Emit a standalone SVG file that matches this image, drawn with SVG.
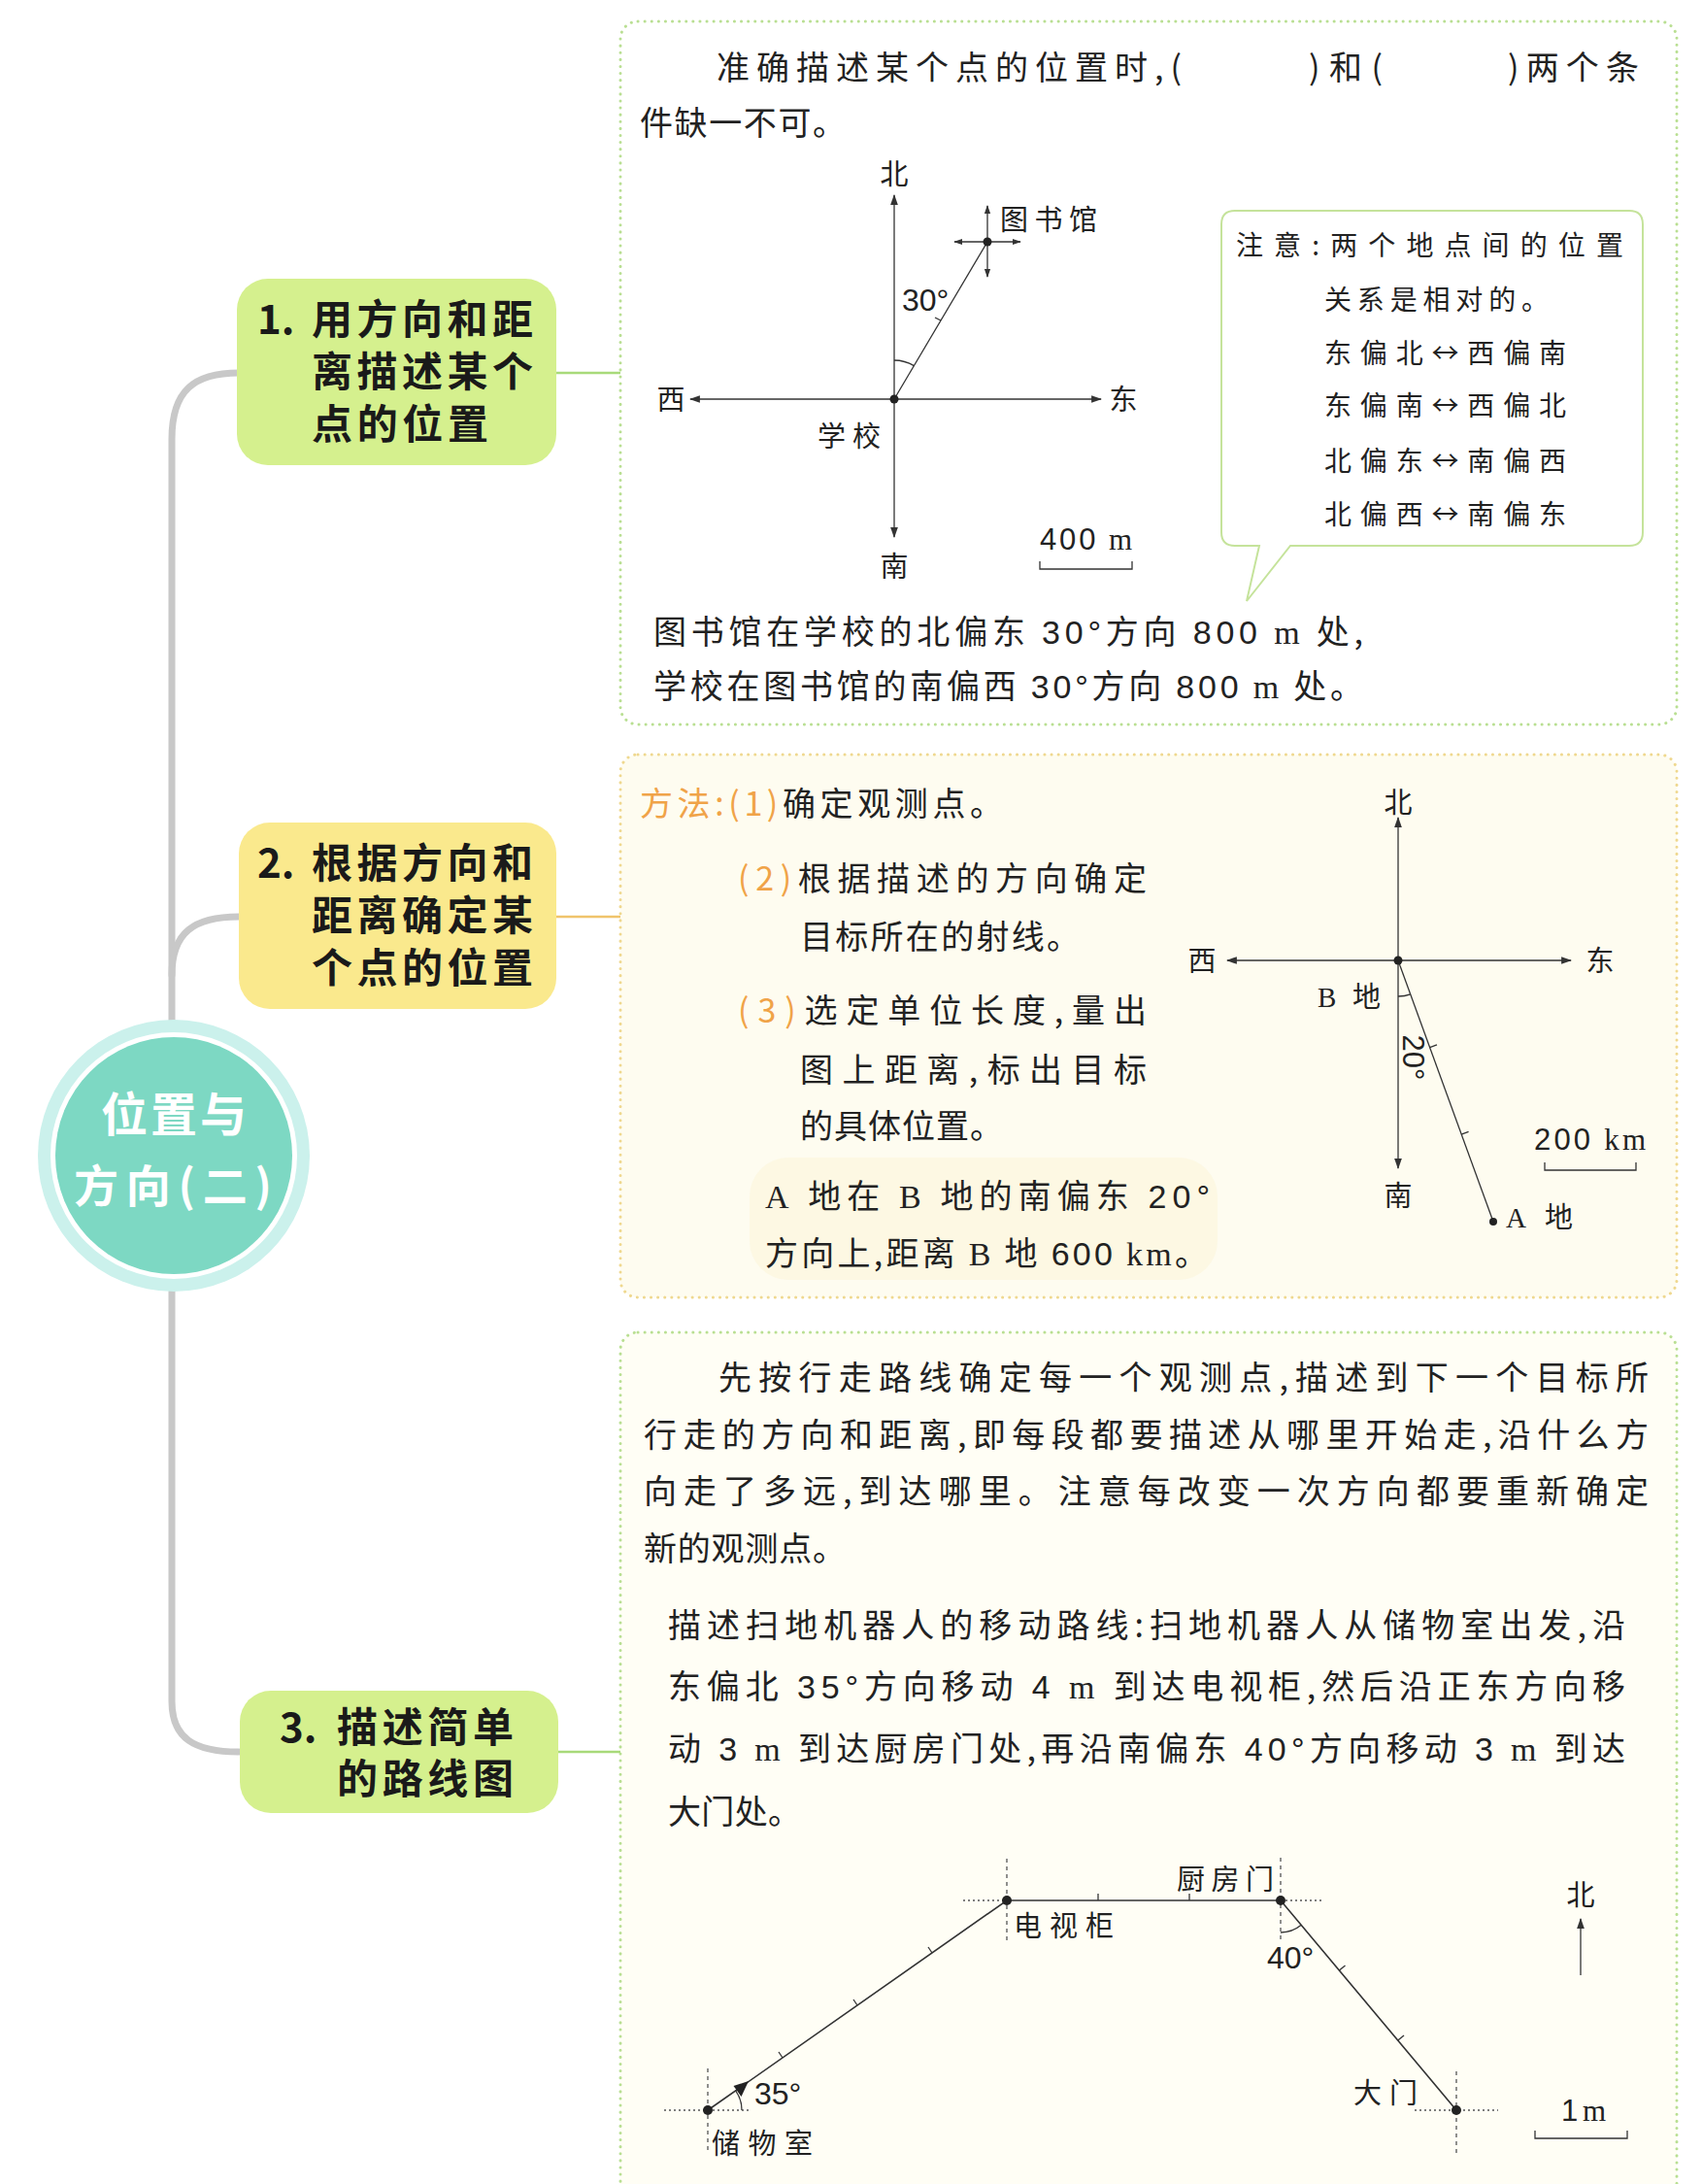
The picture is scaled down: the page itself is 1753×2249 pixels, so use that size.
<svg xmlns="http://www.w3.org/2000/svg" width="1753" height="2249" viewBox="0 0 1753 2249">
<style>
.t{font-family:"Noto Sans CJK SC","Noto Sans",sans-serif;fill:#222}
.b{font-family:"Noto Sans CJK SC","Noto Sans",sans-serif;font-weight:700;fill:#1a1a1a}
.n{font-family:"Liberation Sans","Noto Sans CJK SC",sans-serif}
.s{font-family:"Liberation Serif","Noto Sans CJK SC",serif}
.or{fill:#f0a348}
.ln{stroke:#333;stroke-width:1.6;fill:none}
.thin{stroke:#333;stroke-width:1.3;fill:none}
.dash{stroke:#555;stroke-width:1.3;stroke-dasharray:4 4;fill:none}
.dot{stroke:#555;stroke-width:1.6;stroke-dasharray:2 3;fill:none}
.pg{fill:#ffffff;stroke:#b9df92;stroke-width:3;stroke-dasharray:0.1 7;stroke-linecap:round}
.py{fill:#fefcf0;stroke:#efd88f;stroke-width:3;stroke-dasharray:0.1 7;stroke-linecap:round}
.pc{fill:#fffef5;stroke:#b9df92;stroke-width:3;stroke-dasharray:0.1 7;stroke-linecap:round}
.conn{stroke:#c8c8c8;stroke-width:7;fill:none;stroke-linecap:round}
</style>
<defs>
<marker id="ah" viewBox="0 0 10 10" refX="9" refY="5" markerWidth="11" markerHeight="11" markerUnits="userSpaceOnUse" orient="auto-start-reverse"><path d="M0,1.5 L10,5 L0,8.5 Z" fill="#333"/></marker>
<marker id="as" viewBox="0 0 10 10" refX="9" refY="5" markerWidth="9" markerHeight="9" markerUnits="userSpaceOnUse" orient="auto-start-reverse"><path d="M0,1.5 L10,5 L0,8.5 Z" fill="#333"/></marker>
</defs>
<rect width="1753" height="2249" fill="#ffffff"/>

<g id="connectors">
<path class="conn" d="M246,384 C200,384 177,402 177,452 V1052"/>
<path class="conn" d="M246,944 C200,944 177,960 177,1004"/>
<path class="conn" d="M177,1330 V1752 C177,1790 200,1804 246,1804"/>
<line x1="573" y1="384" x2="640" y2="384" stroke="#a8da7a" stroke-width="2.5"/>
<line x1="573" y1="944" x2="640" y2="944" stroke="#f0c46c" stroke-width="2.5"/>
<line x1="575" y1="1804" x2="640" y2="1804" stroke="#a8da7a" stroke-width="2.5"/>
</g>

<g id="node-root">
<circle cx="179" cy="1190" r="140" fill="#cbf1ec"/>
<circle cx="179" cy="1190" r="127" fill="#ffffff"/>
<circle cx="179" cy="1190" r="122" fill="#7dd8c3"/>
<text class="b" x="179" y="1165" font-size="48" text-anchor="middle" style="fill:#ffffff" textLength="150">位置与</text>
<text class="b" x="178" y="1238" font-size="46" text-anchor="middle" style="fill:#ffffff" textLength="204">方向(二)</text>
</g>

<g id="node-1">
<rect x="244" y="287" width="329" height="192" rx="32" fill="#d5f08e"/>
<text class="b" x="265" y="344" font-size="42">1.</text>
<text class="b" x="321" y="344" font-size="42" textLength="228">用方向和距</text>
<text class="b" x="321" y="398" font-size="42" textLength="228">离描述某个</text>
<text class="b" x="321" y="452" font-size="42" textLength="182">点的位置</text>
</g>

<g id="node-2">
<rect x="246" y="847" width="327" height="192" rx="32" fill="#fae98d"/>
<text class="b" x="265" y="904" font-size="42">2.</text>
<text class="b" x="321" y="904" font-size="42" textLength="228">根据方向和</text>
<text class="b" x="321" y="958" font-size="42" textLength="228">距离确定某</text>
<text class="b" x="321" y="1012" font-size="42" textLength="228">个点的位置</text>
</g>

<g id="node-3">
<rect x="247" y="1741" width="328" height="126" rx="32" fill="#d5f08e"/>
<text class="b" x="288" y="1794" font-size="42">3.</text>
<text class="b" x="347" y="1794" font-size="42" textLength="182">描述简单</text>
<text class="b" x="347" y="1847" font-size="42" textLength="182">的路线图</text>
</g>

<g id="panel-1">
<rect class="pg" x="639" y="22" width="1088" height="724" rx="18"/>
<text class="t" x="738" y="82" font-size="34" textLength="479">准确描述某个点的位置时,(</text>
<text class="t" x="1348" y="82" font-size="34" textLength="76">)和(</text>
<text class="t" x="1553" y="82" font-size="34" textLength="135">)两个条</text>
<text class="t" x="659" y="139" font-size="34" textLength="212">件缺一不可。</text>

<line class="thin" x1="921" y1="201" x2="921" y2="553" marker-start="url(#ah)" marker-end="url(#ah)"/>
<line class="thin" x1="711" y1="411" x2="1134" y2="411" marker-start="url(#ah)" marker-end="url(#ah)"/>
<line class="thin" x1="921" y1="411" x2="1017" y2="249"/>
<line class="thin" x1="983" y1="249" x2="1051" y2="249" marker-start="url(#as)" marker-end="url(#as)"/>
<line class="thin" x1="1017" y1="212" x2="1017" y2="285" marker-start="url(#as)" marker-end="url(#as)"/>
<line class="thin" x1="969" y1="330" x2="963" y2="327"/>
<path class="thin" d="M921,371 A40,40 0 0 1 941.4,376.6"/>
<circle cx="921" cy="411" r="4.5" fill="#222"/>
<circle cx="1017" cy="249" r="4.5" fill="#222"/>
<text class="t" x="921" y="190" font-size="29" text-anchor="middle">北</text>
<text class="t" x="921" y="594" font-size="29" text-anchor="middle">南</text>
<text class="t" x="691" y="422" font-size="29" text-anchor="middle">西</text>
<text class="t" x="1157" y="422" font-size="29" text-anchor="middle">东</text>
<text class="t" x="842" y="460" font-size="29" textLength="65">学校</text>
<text class="t" x="1030" y="237" font-size="29" textLength="100">图书馆</text>
<text class="n" x="929" y="320" font-size="32" fill="#222">30°</text>
<text x="1071" y="566" font-size="31" fill="#222" textLength="95"><tspan class="n">400</tspan> <tspan class="s">m</tspan></text>
<path class="thin" d="M1071,578 V586 H1166 V578"/>

<path d="M1272,217 H1678 Q1692,217 1692,231 V548 Q1692,562 1678,562 H1329 L1284,619 L1297,562 H1272 Q1258,562 1258,548 V231 Q1258,217 1272,217 Z" fill="#ffffff" stroke="#c5e39b" stroke-width="2"/>
<text class="t" x="1273" y="263" font-size="28" textLength="399">注意:两个地点间的位置</text>
<text class="t" x="1364" y="319" font-size="28" textLength="231">关系是相对的。</text>
<text class="t" x="1364" y="374" font-size="28" textLength="249">东偏北↔西偏南</text>
<text class="t" x="1364" y="428" font-size="28" textLength="249">东偏南↔西偏北</text>
<text class="t" x="1364" y="485" font-size="28" textLength="249">北偏东↔南偏西</text>
<text class="t" x="1364" y="540" font-size="28" textLength="249">北偏西↔南偏东</text>

<text class="t" x="673" y="663" font-size="34" textLength="731">图书馆在学校的北偏东 <tspan class="n">30°</tspan>方向 <tspan class="n">800</tspan> <tspan class="s">m</tspan> 处,</text>
<text class="t" x="673" y="719" font-size="34" textLength="731">学校在图书馆的南偏西 <tspan class="n">30°</tspan>方向 <tspan class="n">800</tspan> <tspan class="s">m</tspan> 处。</text>
</g>

<g id="panel-2">
<rect class="py" x="639" y="777" width="1088" height="559" rx="18"/>
<rect x="772" y="1192" width="482" height="126" rx="40" fill="#fcf5da" opacity="0.6"/>
<text class="t" x="659" y="840" font-size="34" textLength="374"><tspan style="fill:#f0a348">方法:(1)</tspan>确定观测点。</text>
<text class="t" x="760" y="917" font-size="34" textLength="421"><tspan style="fill:#f0a348">(2)</tspan>根据描述的方向确定</text>
<text class="t" x="824" y="977" font-size="34" textLength="288">目标所在的射线。</text>
<text class="t" x="760" y="1053" font-size="34" textLength="421"><tspan style="fill:#f0a348">(3)</tspan>选定单位长度,量出</text>
<text class="t" x="824" y="1114" font-size="34" textLength="357">图上距离,标出目标</text>
<text class="t" x="824" y="1172" font-size="34" textLength="209">的具体位置。</text>
<text class="t" x="788" y="1244" font-size="34" textLength="458"><tspan class="s">A</tspan> 地在 <tspan class="s">B</tspan> 地的南偏东 <tspan class="n">20°</tspan></text>
<text class="t" x="788" y="1303" font-size="34" textLength="456">方向上,距离 <tspan class="s">B</tspan> 地 <tspan class="n">600</tspan> <tspan class="s">km</tspan>。</text>

<line class="thin" x1="1440" y1="842" x2="1440" y2="1203" marker-start="url(#ah)" marker-end="url(#ah)"/>
<line class="thin" x1="1264" y1="989" x2="1618" y2="989" marker-start="url(#ah)" marker-end="url(#ah)"/>
<line class="thin" x1="1440" y1="989" x2="1538" y2="1258"/>
<line class="thin" x1="1472.6" y1="1078.6" x2="1480" y2="1075.9"/>
<line class="thin" x1="1505.2" y1="1168.1" x2="1512.6" y2="1165.4"/>
<path class="thin" d="M1440,1026 A37,37 0 0 0 1452.7,1023.8"/>
<circle cx="1440" cy="989" r="4.5" fill="#222"/>
<circle cx="1538" cy="1258" r="4" fill="#222"/>
<text class="t" x="1440" y="837" font-size="29" text-anchor="middle">北</text>
<text class="t" x="1440" y="1242" font-size="29" text-anchor="middle">南</text>
<text class="t" x="1238" y="1000" font-size="29" text-anchor="middle">西</text>
<text class="t" x="1648" y="1000" font-size="29" text-anchor="middle">东</text>
<text class="t" x="1357" y="1037" font-size="29" textLength="65"><tspan class="s">B</tspan> 地</text>
<text class="t" x="1551" y="1264" font-size="29" textLength="69"><tspan class="s">A</tspan> 地</text>
<text class="n" transform="translate(1456,1089) rotate(90)" x="0" y="11" font-size="31" text-anchor="middle" fill="#222">20°</text>
<text x="1580" y="1184" font-size="31" fill="#222" textLength="115"><tspan class="n">200</tspan> <tspan class="s">km</tspan></text>
<path class="thin" d="M1591,1197 V1205 H1685 V1197"/>
</g>

<g id="panel-3">
<rect class="pc" x="639" y="1372" width="1088" height="900" rx="18"/>
<text class="t" x="740" y="1431" font-size="34" textLength="958">先按行走路线确定每一个观测点,描述到下一个目标所</text>
<text class="t" x="663" y="1490" font-size="34" textLength="1035">行走的方向和距离,即每段都要描述从哪里开始走,沿什么方</text>
<text class="t" x="663" y="1548" font-size="34" textLength="1035">向走了多远,到达哪里。注意每改变一次方向都要重新确定</text>
<text class="t" x="663" y="1607" font-size="34" textLength="208">新的观测点。</text>

<text class="t" x="688" y="1686" font-size="34" textLength="986">描述扫地机器人的移动路线:扫地机器人从储物室出发,沿</text>
<text class="t" x="688" y="1749" font-size="34" textLength="986">东偏北 <tspan class="n">35°</tspan>方向移动 <tspan class="n">4</tspan> <tspan class="s">m</tspan> 到达电视柜,然后沿正东方向移</text>
<text class="t" x="688" y="1813" font-size="34" textLength="986">动 <tspan class="n">3</tspan> <tspan class="s">m</tspan> 到达厨房门处,再沿南偏东 <tspan class="n">40°</tspan>方向移动 <tspan class="n">3</tspan> <tspan class="s">m</tspan> 到达</text>
<text class="t" x="688" y="1878" font-size="34" textLength="137">大门处。</text>

<line class="dot" x1="684" y1="2173" x2="772" y2="2173"/>
<line class="dash" x1="729" y1="2130" x2="729" y2="2218"/>
<line class="dot" x1="992" y1="1957" x2="1037" y2="1957"/>
<line class="dash" x1="1037" y1="1914" x2="1037" y2="2000"/>
<line class="dot" x1="1319" y1="1957" x2="1361" y2="1957"/>
<line class="dash" x1="1319" y1="1913" x2="1319" y2="2000"/>
<line class="dot" x1="1457" y1="2173" x2="1543" y2="2173"/>
<line class="dash" x1="1500" y1="2133" x2="1500" y2="2219"/>

<polyline class="ln" points="729,2173 1037,1957 1319,1957 1500,2173"/>
<path d="M771,2143 L755.5,2148 L763.5,2159 Z" fill="#222"/>
<line class="thin" x1="806" y1="2119" x2="802" y2="2113"/>
<line class="thin" x1="883" y1="2065" x2="879" y2="2059"/>
<line class="thin" x1="960" y1="2011" x2="956" y2="2005"/>
<line class="thin" x1="1131" y1="1957" x2="1131" y2="1950"/>
<line class="thin" x1="1225" y1="1957" x2="1225" y2="1950"/>
<line class="thin" x1="1379.4" y1="2029" x2="1385.5" y2="2023.9"/>
<line class="thin" x1="1439.9" y1="2101" x2="1446" y2="2095.9"/>
<path class="thin" d="M764,2173 A35,35 0 0 0 757.7,2152.9"/>
<path class="thin" d="M1319,1990 A33,33 0 0 0 1340.2,1982.3"/>
<circle cx="729" cy="2173" r="5" fill="#222"/>
<circle cx="1037" cy="1957" r="5" fill="#222"/>
<circle cx="1319" cy="1957" r="5" fill="#222"/>
<circle cx="1500" cy="2173" r="5" fill="#222"/>
<text class="n" x="777" y="2167" font-size="32" fill="#222">35°</text>
<text class="n" x="1305" y="2027" font-size="32" fill="#222">40°</text>
<text class="t" x="733" y="2218" font-size="29" textLength="104">储物室</text>
<text class="t" x="1044" y="1994" font-size="29" textLength="103">电视柜</text>
<text class="t" x="1212" y="1946" font-size="29" textLength="100">厨房门</text>
<text class="t" x="1394" y="2166" font-size="29" textLength="66">大门</text>
<text class="t" x="1628" y="1962" font-size="29" text-anchor="middle">北</text>
<line class="thin" x1="1628" y1="2034" x2="1628" y2="1976" marker-end="url(#ah)"/>
<text x="1608" y="2184" font-size="31" fill="#222" textLength="46"><tspan class="n">1</tspan> <tspan class="s">m</tspan></text>
<path class="thin" d="M1581,2194 V2202 H1676 V2194"/>
</g>
</svg>
